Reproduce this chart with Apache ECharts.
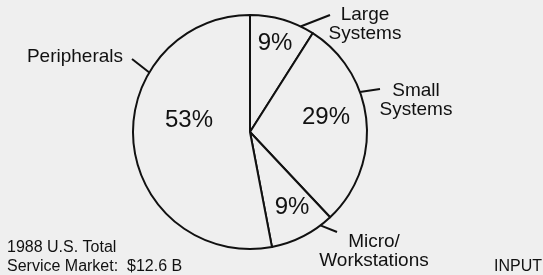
<!DOCTYPE html>
<html>
<head>
<meta charset="utf-8">
<script src="https://cdn.jsdelivr.net/npm/echarts@6/dist/echarts.min.js"></script>
<style>
  html, body { margin: 0; padding: 0; background: #efefef; }
  #chart { width: 543px; height: 275px; }
</style>
</head>
<body>
<div id="chart"></div>
<script>
// segments, clockwise from 12 o'clock
const categories = ['Large\nSystems', 'Small\nSystems', 'Micro/\nWorkstations', 'Peripherals'];
const shares = [9, 29, 9, 53];

const footnote = '1988 U.S. Total\nService Market:  $12.6 B';
const source = 'INPUT';

// layout
const cx = 250, cy = 132, R = 117;
const font = '"Liberation Sans", Arial, Helvetica, sans-serif';
// where the percent text sits
const pctAt = [[275, 43], [326, 117], [189, 120], [292, 207]];
// callout: angle on rim (deg from top), tick end, text anchor
const callout = [
  { a: 25.6, end: [330, 15], text: [365, 24], align: 'center' },
  { a: 70, end: [380, 89], text: [416, 100], align: 'center' },
  { a: 143, end: [337, 232], text: [374, 251], align: 'center' },
  { a: 300.6, end: [132, 59], text: [123, 57], align: 'right' }
];

const pieData = categories.map((name, i) => ({ name: name, value: shares[i] }));

function rim(deg) {
  const t = deg * Math.PI / 180;
  return [cx + R * Math.sin(t), cy - R * Math.cos(t)];
}

// pick the percent spot closest to the sector's bounding box centre
function nearestPct(rect) {
  const mx = rect.x + rect.width / 2, my = rect.y + rect.height / 2;
  let best = pctAt[0], bd = Infinity;
  pctAt.forEach(p => {
    const d = (p[0] - mx) ** 2 + (p[1] - my) ** 2;
    if (d < bd) { bd = d; best = p; }
  });
  return best;
}

const chart = echarts.init(document.getElementById('chart'), null, { renderer: 'canvas' });
chart.setOption({
  backgroundColor: '#efefef',
  animation: false,
  title: [
    {
      text: footnote, left: 7, top: 238, padding: 0,
      textStyle: { fontFamily: font, fontSize: 16, fontWeight: 'normal', color: '#111', lineHeight: 19 }
    },
    {
      text: source, left: 494, top: 259, padding: 0,
      textStyle: { fontFamily: font, fontSize: 16, fontWeight: 'normal', color: '#111' }
    }
  ],
  series: [
    {
      type: 'pie',
      center: [cx, cy],
      radius: [0, R],
      startAngle: 90,
      clockwise: true,
      silent: true,
      itemStyle: { color: '#efefef', borderColor: '#111', borderWidth: 2 },
      label: {
        show: true, position: 'inside', formatter: '{c}%',
        fontFamily: font, fontSize: 24, color: '#111'
      },
      labelLayout: p => {
        const at = nearestPct(p.rect);
        return { x: at[0], y: at[1], align: 'center', verticalAlign: 'middle' };
      },
      data: pieData
    },
    {
      type: 'pie',
      center: [cx, cy],
      radius: [0, R],
      startAngle: 90,
      clockwise: true,
      silent: true,
      itemStyle: { color: 'transparent', borderWidth: 0 },
      label: {
        show: true, position: 'outside', formatter: '{b}',
        fontFamily: font, fontSize: 19, color: '#111', lineHeight: 19, align: 'center'
      },
      labelLine: { show: true, length: 10, length2: 0, lineStyle: { color: '#111', width: 2 } },
      labelLayout: p => {
        const c = callout[p.dataIndex];
        const s = rim(c.a);
        return {
          x: c.text[0], y: c.text[1],
          align: c.align, verticalAlign: 'middle',
          labelLinePoints: [s, c.end, c.end]
        };
      },
      data: pieData
    }
  ]
});
</script>
</body>
</html>
